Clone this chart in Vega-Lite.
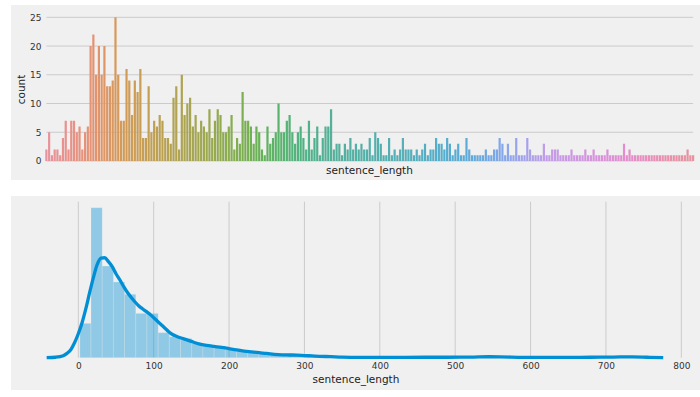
{
  "$schema": "https://vega.github.io/schema/vega-lite/v6.json",
  "background": "white",
  "padding": {"left": 11, "top": 5, "right": 0, "bottom": 7},
  "spacing": 16,
  "config": {
    "font": "DejaVu Sans",
    "view": {"fill": "#f0f0f0", "stroke": null},
    "axis": {"labelFont": "DejaVu Sans", "titleFont": "DejaVu Sans", "labelColor": "#333333", "titleColor": "#222222", "titleFontWeight": "normal", "labelFontSize": 9, "titleFontSize": 10.5, "labelOverlap": false}
  },
  "datasets": {
    "counts": [
      {"sentence_length":2,"count":2},{"sentence_length":3,"count":5},{"sentence_length":4,"count":1},{"sentence_length":5,"count":2},{"sentence_length":6,"count":2},{"sentence_length":7,"count":1},{"sentence_length":8,"count":4},{"sentence_length":9,"count":7},{"sentence_length":10,"count":2},{"sentence_length":11,"count":7},
      {"sentence_length":12,"count":7},{"sentence_length":13,"count":5},{"sentence_length":14,"count":6},{"sentence_length":15,"count":2},{"sentence_length":16,"count":5},{"sentence_length":17,"count":6},{"sentence_length":18,"count":20},{"sentence_length":19,"count":22},{"sentence_length":20,"count":15},{"sentence_length":21,"count":20},
      {"sentence_length":22,"count":15},{"sentence_length":23,"count":20},{"sentence_length":24,"count":13},{"sentence_length":25,"count":13},{"sentence_length":26,"count":14},{"sentence_length":27,"count":25},{"sentence_length":28,"count":15},{"sentence_length":29,"count":7},{"sentence_length":30,"count":7},{"sentence_length":31,"count":16},
      {"sentence_length":32,"count":14},{"sentence_length":33,"count":8},{"sentence_length":34,"count":14},{"sentence_length":35,"count":12},{"sentence_length":36,"count":16},{"sentence_length":37,"count":4},{"sentence_length":38,"count":4},
      {"sentence_length":39,"count":13},{"sentence_length":40,"count":5},{"sentence_length":41,"count":7},{"sentence_length":42,"count":6},{"sentence_length":43,"count":8},{"sentence_length":44,"count":7},{"sentence_length":45,"count":4},{"sentence_length":46,"count":4},{"sentence_length":47,"count":3},{"sentence_length":48,"count":11},
      {"sentence_length":49,"count":13},{"sentence_length":50,"count":2},{"sentence_length":51,"count":15},{"sentence_length":52,"count":8},{"sentence_length":53,"count":10},{"sentence_length":54,"count":11},{"sentence_length":55,"count":6},{"sentence_length":56,"count":8},{"sentence_length":57,"count":5},{"sentence_length":58,"count":7},
      {"sentence_length":59,"count":6},{"sentence_length":60,"count":5},{"sentence_length":61,"count":9},{"sentence_length":62,"count":4},{"sentence_length":63,"count":7},{"sentence_length":64,"count":9},{"sentence_length":65,"count":8},{"sentence_length":66,"count":5},{"sentence_length":67,"count":5},{"sentence_length":68,"count":6},
      {"sentence_length":69,"count":8},{"sentence_length":70,"count":2},{"sentence_length":71,"count":4},{"sentence_length":72,"count":3},{"sentence_length":73,"count":12},{"sentence_length":74,"count":7},{"sentence_length":75,"count":7},{"sentence_length":76,"count":6},{"sentence_length":77,"count":3},{"sentence_length":78,"count":6},{"sentence_length":79,"count":5},
      {"sentence_length":80,"count":2},{"sentence_length":81,"count":1},{"sentence_length":82,"count":6},{"sentence_length":83,"count":3},{"sentence_length":84,"count":4},{"sentence_length":85,"count":5},{"sentence_length":86,"count":10},{"sentence_length":87,"count":5},{"sentence_length":88,"count":5},{"sentence_length":89,"count":7},
      {"sentence_length":90,"count":8},{"sentence_length":91,"count":5},{"sentence_length":92,"count":3},{"sentence_length":93,"count":5},{"sentence_length":94,"count":6},{"sentence_length":95,"count":4},{"sentence_length":96,"count":2},{"sentence_length":97,"count":7},{"sentence_length":98,"count":2},{"sentence_length":99,"count":4},
      {"sentence_length":100,"count":6},{"sentence_length":101,"count":1},{"sentence_length":102,"count":4},{"sentence_length":103,"count":6},{"sentence_length":104,"count":6},{"sentence_length":105,"count":9},{"sentence_length":106,"count":2},{"sentence_length":107,"count":3},{"sentence_length":108,"count":3},{"sentence_length":109,"count":1},
      {"sentence_length":110,"count":3},{"sentence_length":111,"count":2},{"sentence_length":112,"count":4},{"sentence_length":113,"count":2},{"sentence_length":114,"count":3},{"sentence_length":115,"count":2},{"sentence_length":116,"count":3},{"sentence_length":117,"count":2},
      {"sentence_length":118,"count":2},{"sentence_length":119,"count":4},{"sentence_length":120,"count":1},{"sentence_length":121,"count":5},{"sentence_length":122,"count":4},{"sentence_length":123,"count":3},{"sentence_length":124,"count":1},{"sentence_length":125,"count":1},{"sentence_length":126,"count":4},{"sentence_length":127,"count":1},
      {"sentence_length":128,"count":2},{"sentence_length":129,"count":1},{"sentence_length":130,"count":2},{"sentence_length":131,"count":4},{"sentence_length":132,"count":2},{"sentence_length":133,"count":2},{"sentence_length":134,"count":2},{"sentence_length":135,"count":1},{"sentence_length":136,"count":2},{"sentence_length":137,"count":1},
      {"sentence_length":138,"count":2},{"sentence_length":139,"count":3},{"sentence_length":140,"count":1},{"sentence_length":141,"count":2},{"sentence_length":142,"count":2},{"sentence_length":143,"count":4},{"sentence_length":144,"count":3},{"sentence_length":145,"count":3},{"sentence_length":146,"count":2},{"sentence_length":147,"count":4},
      {"sentence_length":148,"count":3},{"sentence_length":149,"count":1},{"sentence_length":150,"count":2},{"sentence_length":151,"count":3},{"sentence_length":152,"count":1},{"sentence_length":153,"count":1},{"sentence_length":154,"count":4},{"sentence_length":155,"count":2},{"sentence_length":156,"count":1},
      {"sentence_length":157,"count":1},{"sentence_length":158,"count":1},{"sentence_length":159,"count":1},{"sentence_length":160,"count":1},{"sentence_length":161,"count":2},{"sentence_length":162,"count":1},{"sentence_length":163,"count":1},{"sentence_length":164,"count":2},{"sentence_length":165,"count":2},{"sentence_length":166,"count":4},
      {"sentence_length":168,"count":3},{"sentence_length":170,"count":1},{"sentence_length":172,"count":3},{"sentence_length":174,"count":1},{"sentence_length":176,"count":1},{"sentence_length":178,"count":4},{"sentence_length":180,"count":1},{"sentence_length":182,"count":1},{"sentence_length":184,"count":1},{"sentence_length":186,"count":4},
      {"sentence_length":188,"count":2},{"sentence_length":190,"count":1},{"sentence_length":192,"count":1},{"sentence_length":194,"count":1},{"sentence_length":196,"count":1},{"sentence_length":198,"count":3},{"sentence_length":200,"count":1},{"sentence_length":202,"count":1},{"sentence_length":204,"count":2},{"sentence_length":206,"count":2},
      {"sentence_length":208,"count":2},{"sentence_length":210,"count":1},{"sentence_length":212,"count":1},{"sentence_length":214,"count":1},{"sentence_length":216,"count":1},{"sentence_length":218,"count":2},{"sentence_length":220,"count":1},{"sentence_length":222,"count":1},{"sentence_length":224,"count":1},
      {"sentence_length":228,"count":1},{"sentence_length":233,"count":2},{"sentence_length":238,"count":1},{"sentence_length":244,"count":1},{"sentence_length":250,"count":2},{"sentence_length":256,"count":1},{"sentence_length":262,"count":1},{"sentence_length":268,"count":1},{"sentence_length":275,"count":1},{"sentence_length":282,"count":2},
      {"sentence_length":289,"count":1},{"sentence_length":296,"count":1},{"sentence_length":304,"count":1},{"sentence_length":312,"count":1},{"sentence_length":320,"count":1},{"sentence_length":329,"count":3},{"sentence_length":338,"count":1},{"sentence_length":347,"count":2},{"sentence_length":357,"count":1},{"sentence_length":367,"count":1},
      {"sentence_length":378,"count":1},{"sentence_length":389,"count":1},{"sentence_length":400,"count":1},{"sentence_length":413,"count":1},{"sentence_length":426,"count":1},{"sentence_length":440,"count":1},{"sentence_length":455,"count":1},{"sentence_length":470,"count":1},{"sentence_length":486,"count":1},{"sentence_length":503,"count":1},
      {"sentence_length":521,"count":1},{"sentence_length":540,"count":1},{"sentence_length":560,"count":1},{"sentence_length":581,"count":1},{"sentence_length":603,"count":1},{"sentence_length":626,"count":1},{"sentence_length":650,"count":1},{"sentence_length":675,"count":1},{"sentence_length":700,"count":2},{"sentence_length":721,"count":1},{"sentence_length":742,"count":1}
    ],
    "grid_top": [
      {"tick":0,"from":2,"to":742},{"tick":5,"from":2,"to":742},{"tick":10,"from":2,"to":742},{"tick":15,"from":2,"to":742},{"tick":20,"from":2,"to":742},{"tick":25,"from":2,"to":742}
    ],
    "grid_bottom": [
      {"tick":0},{"tick":100},{"tick":200},{"tick":300},{"tick":400},{"tick":500},{"tick":600},{"tick":700},{"tick":800}
    ],
    "hist": [
      {"bin_start":2,"bin_end":16.85,"density":0.00365},
      {"bin_start":16.85,"bin_end":31.7,"density":0.01595},
      {"bin_start":31.7,"bin_end":46.55,"density":0.00975},
      {"bin_start":46.55,"bin_end":61.4,"density":0.00805},
      {"bin_start":61.4,"bin_end":76.25,"density":0.00674},
      {"bin_start":76.25,"bin_end":91.1,"density":0.00471},
      {"bin_start":91.1,"bin_end":105.95,"density":0.00471},
      {"bin_start":105.95,"bin_end":120.8,"density":0.00266},
      {"bin_start":120.8,"bin_end":135.65,"density":0.00223},
      {"bin_start":135.65,"bin_end":150.5,"density":0.00205},
      {"bin_start":150.5,"bin_end":165.35,"density":0.00152},
      {"bin_start":165.35,"bin_end":180.2,"density":0.00124},
      {"bin_start":180.2,"bin_end":195.05,"density":0.00124},
      {"bin_start":195.05,"bin_end":209.9,"density":0.00088},
      {"bin_start":209.9,"bin_end":224.75,"density":0.0008},
      {"bin_start":224.75,"bin_end":239.6,"density":0.00069},
      {"bin_start":239.6,"bin_end":254.45,"density":0.00058},
      {"bin_start":254.45,"bin_end":269.3,"density":0.00032},
      {"bin_start":269.3,"bin_end":284.15,"density":0.00027},
      {"bin_start":284.15,"bin_end":299,"density":0.00027},
      {"bin_start":299,"bin_end":313.85,"density":0.00021},
      {"bin_start":313.85,"bin_end":328.7,"density":0.00016},
      {"bin_start":328.7,"bin_end":343.55,"density":0.00013},
      {"bin_start":343.55,"bin_end":358.4,"density":0.00009},
      {"bin_start":358.4,"bin_end":373.25,"density":0.000064},
      {"bin_start":373.25,"bin_end":388.1,"density":0.000064},
      {"bin_start":388.1,"bin_end":402.95,"density":0},
      {"bin_start":402.95,"bin_end":417.8,"density":0.000064},
      {"bin_start":417.8,"bin_end":432.65,"density":0.000064},
      {"bin_start":432.65,"bin_end":447.5,"density":0.000128},
      {"bin_start":447.5,"bin_end":462.35,"density":0.000064},
      {"bin_start":462.35,"bin_end":477.2,"density":0},
      {"bin_start":477.2,"bin_end":492.05,"density":0.000064},
      {"bin_start":492.05,"bin_end":506.9,"density":0.000064},
      {"bin_start":506.9,"bin_end":521.75,"density":0},
      {"bin_start":521.75,"bin_end":536.6,"density":0.000128},
      {"bin_start":536.6,"bin_end":551.45,"density":0.000064},
      {"bin_start":551.45,"bin_end":566.3,"density":0.000064},
      {"bin_start":566.3,"bin_end":581.15,"density":0},
      {"bin_start":581.15,"bin_end":596,"density":0.000064},
      {"bin_start":596,"bin_end":610.85,"density":0},
      {"bin_start":610.85,"bin_end":625.7,"density":0.000064},
      {"bin_start":625.7,"bin_end":640.55,"density":0.000064},
      {"bin_start":640.55,"bin_end":655.4,"density":0},
      {"bin_start":655.4,"bin_end":670.25,"density":0.000064},
      {"bin_start":670.25,"bin_end":685.1,"density":0},
      {"bin_start":685.1,"bin_end":699.95,"density":0.000064},
      {"bin_start":699.95,"bin_end":714.8,"density":0.000128},
      {"bin_start":714.8,"bin_end":729.65,"density":0.000064},
      {"bin_start":729.65,"bin_end":744.5,"density":0.000064}
    ],
    "kde": [
      {"sentence_length":-42,"density":0},{"sentence_length":-30,"density":0.00005},{"sentence_length":-20,"density":0.00021},{"sentence_length":-15,"density":0.00046},{"sentence_length":-10,"density":0.00085},
      {"sentence_length":-5,"density":0.00159},{"sentence_length":0,"density":0.00255},{"sentence_length":5,"density":0.00372},{"sentence_length":10,"density":0.00521},{"sentence_length":15,"density":0.00691},
      {"sentence_length":20,"density":0.00851},{"sentence_length":25,"density":0.00989},{"sentence_length":30,"density":0.01058},{"sentence_length":35,"density":0.01063},{"sentence_length":40,"density":0.01021},
      {"sentence_length":45,"density":0.00968},{"sentence_length":50,"density":0.00893},{"sentence_length":55,"density":0.00829},{"sentence_length":60,"density":0.0076},{"sentence_length":65,"density":0.00696},
      {"sentence_length":70,"density":0.00643},{"sentence_length":75,"density":0.00595},{"sentence_length":80,"density":0.00553},{"sentence_length":85,"density":0.00521},{"sentence_length":90,"density":0.00492},
      {"sentence_length":95,"density":0.00463},{"sentence_length":100,"density":0.00425},{"sentence_length":105,"density":0.00388},{"sentence_length":110,"density":0.00351},{"sentence_length":115,"density":0.00314},
      {"sentence_length":120,"density":0.00276},{"sentence_length":125,"density":0.00247},{"sentence_length":130,"density":0.00229},{"sentence_length":140,"density":0.002},{"sentence_length":150,"density":0.00173},
      {"sentence_length":160,"density":0.00147},{"sentence_length":170,"density":0.00131},{"sentence_length":180,"density":0.0012},{"sentence_length":190,"density":0.0011},{"sentence_length":200,"density":0.00096},
      {"sentence_length":210,"density":0.00082},{"sentence_length":220,"density":0.00071},{"sentence_length":230,"density":0.00062},{"sentence_length":240,"density":0.00053},{"sentence_length":250,"density":0.00045},
      {"sentence_length":260,"density":0.00035},{"sentence_length":270,"density":0.0003},{"sentence_length":280,"density":0.00029},{"sentence_length":290,"density":0.00028},{"sentence_length":300,"density":0.00023},
      {"sentence_length":310,"density":0.00019},{"sentence_length":320,"density":0.00015},{"sentence_length":335,"density":0.00011},{"sentence_length":350,"density":0.00006},{"sentence_length":370,"density":0.00004},
      {"sentence_length":400,"density":0.00003},{"sentence_length":430,"density":0.00004},{"sentence_length":460,"density":0.00005},{"sentence_length":490,"density":0.00005},{"sentence_length":520,"density":0.00006},
      {"sentence_length":545,"density":0.0001},{"sentence_length":560,"density":0.00009},{"sentence_length":590,"density":0.00004},{"sentence_length":620,"density":0.00003},{"sentence_length":650,"density":0.00004},
      {"sentence_length":680,"density":0.00005},{"sentence_length":710,"density":0.00007},{"sentence_length":735,"density":0.00009},{"sentence_length":755,"density":0.00005},{"sentence_length":776,"density":0.00001}
    ]
  },
  "vconcat": [
    {
      "width": 689,
      "height": 175,
      "layer": [
        {
          "data": {"name": "grid_top"},
          "mark": {"type": "rule", "color": "#cbcbcb", "strokeWidth": 1},
          "encoding": {
            "y": {
              "field": "tick", "type": "quantitative",
              "axis": {"values": [0, 5, 10, 15, 20, 25], "grid": false, "ticks": false, "domain": false, "offset": -34, "labelPadding": 4, "title": "count", "titleX": -19, "titleY": 84, "titleAngle": -90, "titleBaseline": "bottom", "titleAlign": "center"}
            },
            "x": {
              "field": "from", "type": "ordinal",
              "axis": {"labels": false, "ticks": false, "domain": false, "grid": false, "offset": -19, "title": "sentence_length", "titleX": 358, "titleY": 9, "titleBaseline": "middle", "titleAlign": "center"}
            },
            "x2": {"field": "to"}
          }
        },
        {
          "data": {"name": "counts"},
          "transform": [{"window": [{"op": "row_number", "as": "rank"}], "sort": [{"field": "sentence_length", "order": "ascending"}]}],
          "mark": {"type": "bar"},
          "encoding": {
            "x": {
              "field": "sentence_length", "type": "ordinal",
              "scale": {"type": "band", "paddingInner": 0.2, "paddingOuter": 0.1, "align": 0.5, "range": [34, 683.5], "round": false},
              "axis": {"labels": false, "ticks": false, "domain": false, "grid": false, "offset": -19, "title": "sentence_length", "titleX": 358, "titleY": 9, "titleBaseline": "middle", "titleAlign": "center"}
            },
            "y": {
              "field": "count", "type": "quantitative", "stack": null,
              "scale": {"domain": [-3.31, 27.14], "nice": false, "zero": false},
              "axis": {"values": [0, 5, 10, 15, 20, 25], "grid": false, "ticks": false, "domain": false, "offset": -34, "labelPadding": 4, "title": "count", "titleX": -19, "titleY": 84, "titleAngle": -90, "titleBaseline": "bottom", "titleAlign": "center"}
            },
            "color": {
              "field": "rank", "type": "quantitative", "legend": null,
              "scale": {
                "domain": [1, 26.85, 52.7, 78.55, 104.4, 130.25, 156.1, 181.95, 207.8, 233.65],
                "range": ["#e6939f", "#d6995a", "#a8a552", "#66b257", "#55b09a", "#58afb7", "#62aadc", "#c29ce9", "#e08ed4", "#e6939f"],
                "interpolate": "hcl", "clamp": true
              }
            }
          }
        }
      ]
    },
    {
      "width": 689,
      "height": 194,
      "layer": [
        {
          "data": {"name": "grid_bottom"},
          "mark": {"type": "rule", "color": "#cbcbcb", "strokeWidth": 1},
          "encoding": {
            "x": {
              "field": "tick", "type": "quantitative",
              "axis": {"values": [0, 100, 200, 300, 400, 500, 600, 700, 800], "grid": false, "ticks": false, "domain": false, "offset": -32.3, "labelPadding": 4, "title": "sentence_length", "titleX": 344.5, "titleY": 21.6, "titleBaseline": "middle", "titleAlign": "center"}
            },
            "y": {"datum": 0, "type": "quantitative", "axis": null},
            "y2": {"datum": 0.016588}
          }
        },
        {
          "data": {"name": "hist"},
          "mark": {"type": "bar", "fill": "#008fd5", "fillOpacity": 0.4, "stroke": "#f0f0f0", "strokeWidth": 0.5, "strokeOpacity": 0.5},
          "encoding": {
            "x": {
              "field": "bin_start", "type": "quantitative",
              "scale": {"domain": [-89.29, 824.8], "nice": false, "zero": false},
              "axis": {"values": [0, 100, 200, 300, 400, 500, 600, 700, 800], "grid": false, "ticks": false, "domain": false, "offset": -32.3, "labelPadding": 4, "title": "sentence_length", "titleX": 344.5, "titleY": 21.6, "titleBaseline": "middle", "titleAlign": "center"}
            },
            "x2": {"field": "bin_end"},
            "y": {"field": "density", "type": "quantitative", "scale": {"domain": [-0.003434, 0.017194], "nice": false, "zero": false}, "axis": null},
            "y2": {"datum": 0}
          }
        },
        {
          "data": {"name": "kde"},
          "mark": {"type": "line", "color": "#008fd5", "strokeWidth": 3.3, "interpolate": "monotone"},
          "encoding": {
            "x": {
              "field": "sentence_length", "type": "quantitative",
              "axis": {"values": [0, 100, 200, 300, 400, 500, 600, 700, 800], "grid": false, "ticks": false, "domain": false, "offset": -32.3, "labelPadding": 4, "title": "sentence_length", "titleX": 344.5, "titleY": 21.6, "titleBaseline": "middle", "titleAlign": "center"}
            },
            "y": {"field": "density", "type": "quantitative", "axis": null}
          }
        }
      ]
    }
  ]
}
